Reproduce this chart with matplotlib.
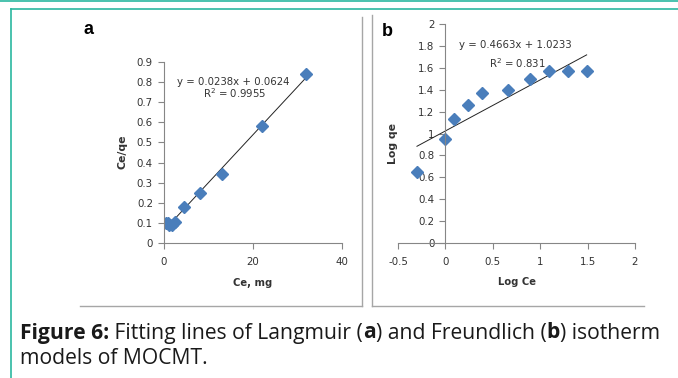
import matplotlib.pyplot as plt
from matplotlib.lines import Line2D
import numpy as np

# panel a: Langmuir
ce = [0.5, 1.0, 1.2, 1.7, 2.4, 4.5, 8.0, 13.0, 22.0, 32.0]
ce_qe = [0.10, 0.10, 0.09, 0.09, 0.105, 0.18, 0.25, 0.345, 0.58, 0.84]
slope_a, icpt_a = 0.0238, 0.0624

# panel b: Freundlich
log_ce = [-0.30, 0.0, 0.09, 0.24, 0.39, 0.66, 0.89, 1.09, 1.29, 1.49]
log_qe = [0.65, 0.95, 1.13, 1.26, 1.37, 1.40, 1.50, 1.57, 1.57, 1.57]
slope_b, icpt_b = 0.4663, 1.0233

a_yticks = [0, 0.1, 0.2, 0.3, 0.4, 0.5, 0.6, 0.7, 0.8, 0.9]
a_xticks = [0, 20, 40]
b_yticks = [0, 0.2, 0.4, 0.6, 0.8, 1, 1.2, 1.4, 1.6, 1.8, 2]
b_xticks = [-0.5, 0, 0.5, 1, 1.5, 2]

W, H = 678, 378
plt.rcParams['font.family'] = ['DejaVu Sans']
fig = plt.figure(figsize=(W / 100, H / 100), dpi=100)

def box(x0, y0, x1, y1):
    # pixel box (top-left origin) -> figure fraction rect
    return [x0 / W, 1 - y1 / H, (x1 - x0) / W, (y1 - y0) / H]

def fline(xs, ys, **kw):
    fig.add_artist(Line2D([x / W for x in xs], [1 - y / H for y in ys],
                          transform=fig.transFigure, **kw))

grey = '#868686'
blue = '#4A7EBB'
ink = '#333333'

def style(ax):
    for s in ['top', 'right']:
        ax.spines[s].set_visible(False)
    for s in ['left', 'bottom']:
        ax.spines[s].set_color(grey)
        ax.spines[s].set_linewidth(0.8)
    ax.tick_params(colors=grey, labelcolor=ink, labelsize=7.4,
                   length=4, width=0.8, direction='out', pad=4)
    ax.patch.set_alpha(0)

def fmt(v):
    return ('%g' % v)

# panel a
ax1 = fig.add_axes(box(164, 62, 342, 243))
x = np.array([min(ce), max(ce)])
ax1.plot(x, slope_a * x + icpt_a, color='#222222', lw=0.7)
ax1.plot(ce, ce_qe, 'D', color=blue, ms=6.5, mec=blue)
ax1.set_xlim(0, 40)
ax1.set_ylim(0, 0.9)
ax1.set_xticks(a_xticks)
ax1.set_yticks(a_yticks)
ax1.set_xticklabels([fmt(v) for v in a_xticks])
ax1.set_yticklabels([fmt(v) for v in a_yticks])
style(ax1)
ax1.tick_params(axis='x', pad=6)
ax1.text(15.5, 0.80, 'y = 0.0238x + 0.0624', ha='center', va='center', fontsize=7.3, color=ink)
ax1.text(16.0, 0.745, 'R$^2$ = 0.9955', ha='center', va='center', fontsize=7.3, color=ink)
fig.text(122 / W, 1 - 152 / H, 'Ce/qe', rotation=90, ha='center', va='center',
         fontsize=7.8, fontweight='bold', color=ink)
fig.text(253 / W, 1 - 283 / H, 'Ce, mg', ha='center', va='center',
         fontsize=7.2, fontweight='bold', color=ink)
fig.text(89 / W, 1 - 30 / H, 'a', ha='center', va='center', fontsize=13,
         fontweight='bold', family=['Liberation Sans', 'DejaVu Sans'])

# panel b
ax2 = fig.add_axes(box(398, 24, 635, 243))
x = np.array([min(log_ce), max(log_ce)])
ax2.plot(x, slope_b * x + icpt_b, color='#222222', lw=0.7)
ax2.plot(log_ce, log_qe, 'D', color=blue, ms=6.5, mec=blue)
ax2.set_xlim(-0.5, 2)
ax2.set_ylim(0, 2)
ax2.set_xticks(b_xticks)
ax2.set_yticks(b_yticks)
ax2.set_xticklabels([fmt(v) for v in b_xticks])
ax2.set_yticklabels([fmt(v) for v in b_yticks])
style(ax2)
ax2.spines['left'].set_position(('data', 0))
ax2.tick_params(axis='x', pad=6)
ax2.text(0.74, 1.81, 'y = 0.4663x + 1.0233', ha='center', va='center', fontsize=7.3, color=ink)
ax2.text(0.76, 1.64, 'R$^2$ = 0.831', ha='center', va='center', fontsize=7.3, color=ink)
fig.text(393 / W, 1 - 143 / H, 'Log qe', rotation=90, ha='center', va='center',
         fontsize=7.8, fontweight='bold', color=ink)
fig.text(517 / W, 1 - 282 / H, 'Log Ce', ha='center', va='center',
         fontsize=7.2, fontweight='bold', color=ink)
fig.text(387 / W, 1 - 32 / H, 'b', ha='center', va='center', fontsize=13,
         fontweight='bold', family=['Liberation Sans', 'DejaVu Sans'])

# panel frames
fline([362, 362], [17, 306], color='#a6a6a6', lw=1)
fline([80, 362], [306, 306], color='#a6a6a6', lw=1)
fline([372, 372], [15, 306], color='#a6a6a6', lw=1)
fline([372, 644], [306, 306], color='#a6a6a6', lw=1)

# teal page border
teal = '#2bb8a0'
fline([0, W], [1, 1], color=teal, lw=1.2)
fline([10.5, W], [8.5, 8.5], color=teal, lw=1.2)
fline([10.5, 10.5], [8.5, H], color=teal, lw=1.2)

# caption with bold pieces
renderer = fig.canvas.get_renderer()
def caption(parts, x0, y):
    xpos = x0
    for txt, bold in parts:
        t = fig.text(xpos / W, 1 - y / H, txt, fontsize=15.2,
                     fontweight='bold' if bold else 'normal',
                     ha='left', va='center', color='#1a1a1a',
                     family=['Open Sans', 'DejaVu Sans'])
        bb = t.get_window_extent(renderer)
        xpos += bb.width

caption([('Figure 6:', True), (' Fitting lines of Langmuir (', False), ('a', True),
         (') and Freundlich (', False), ('b', True), (') isotherm', False)], 20, 333)
caption([('models of MOCMT.', False)], 20, 358)

fig.savefig('out.png', dpi=100)
